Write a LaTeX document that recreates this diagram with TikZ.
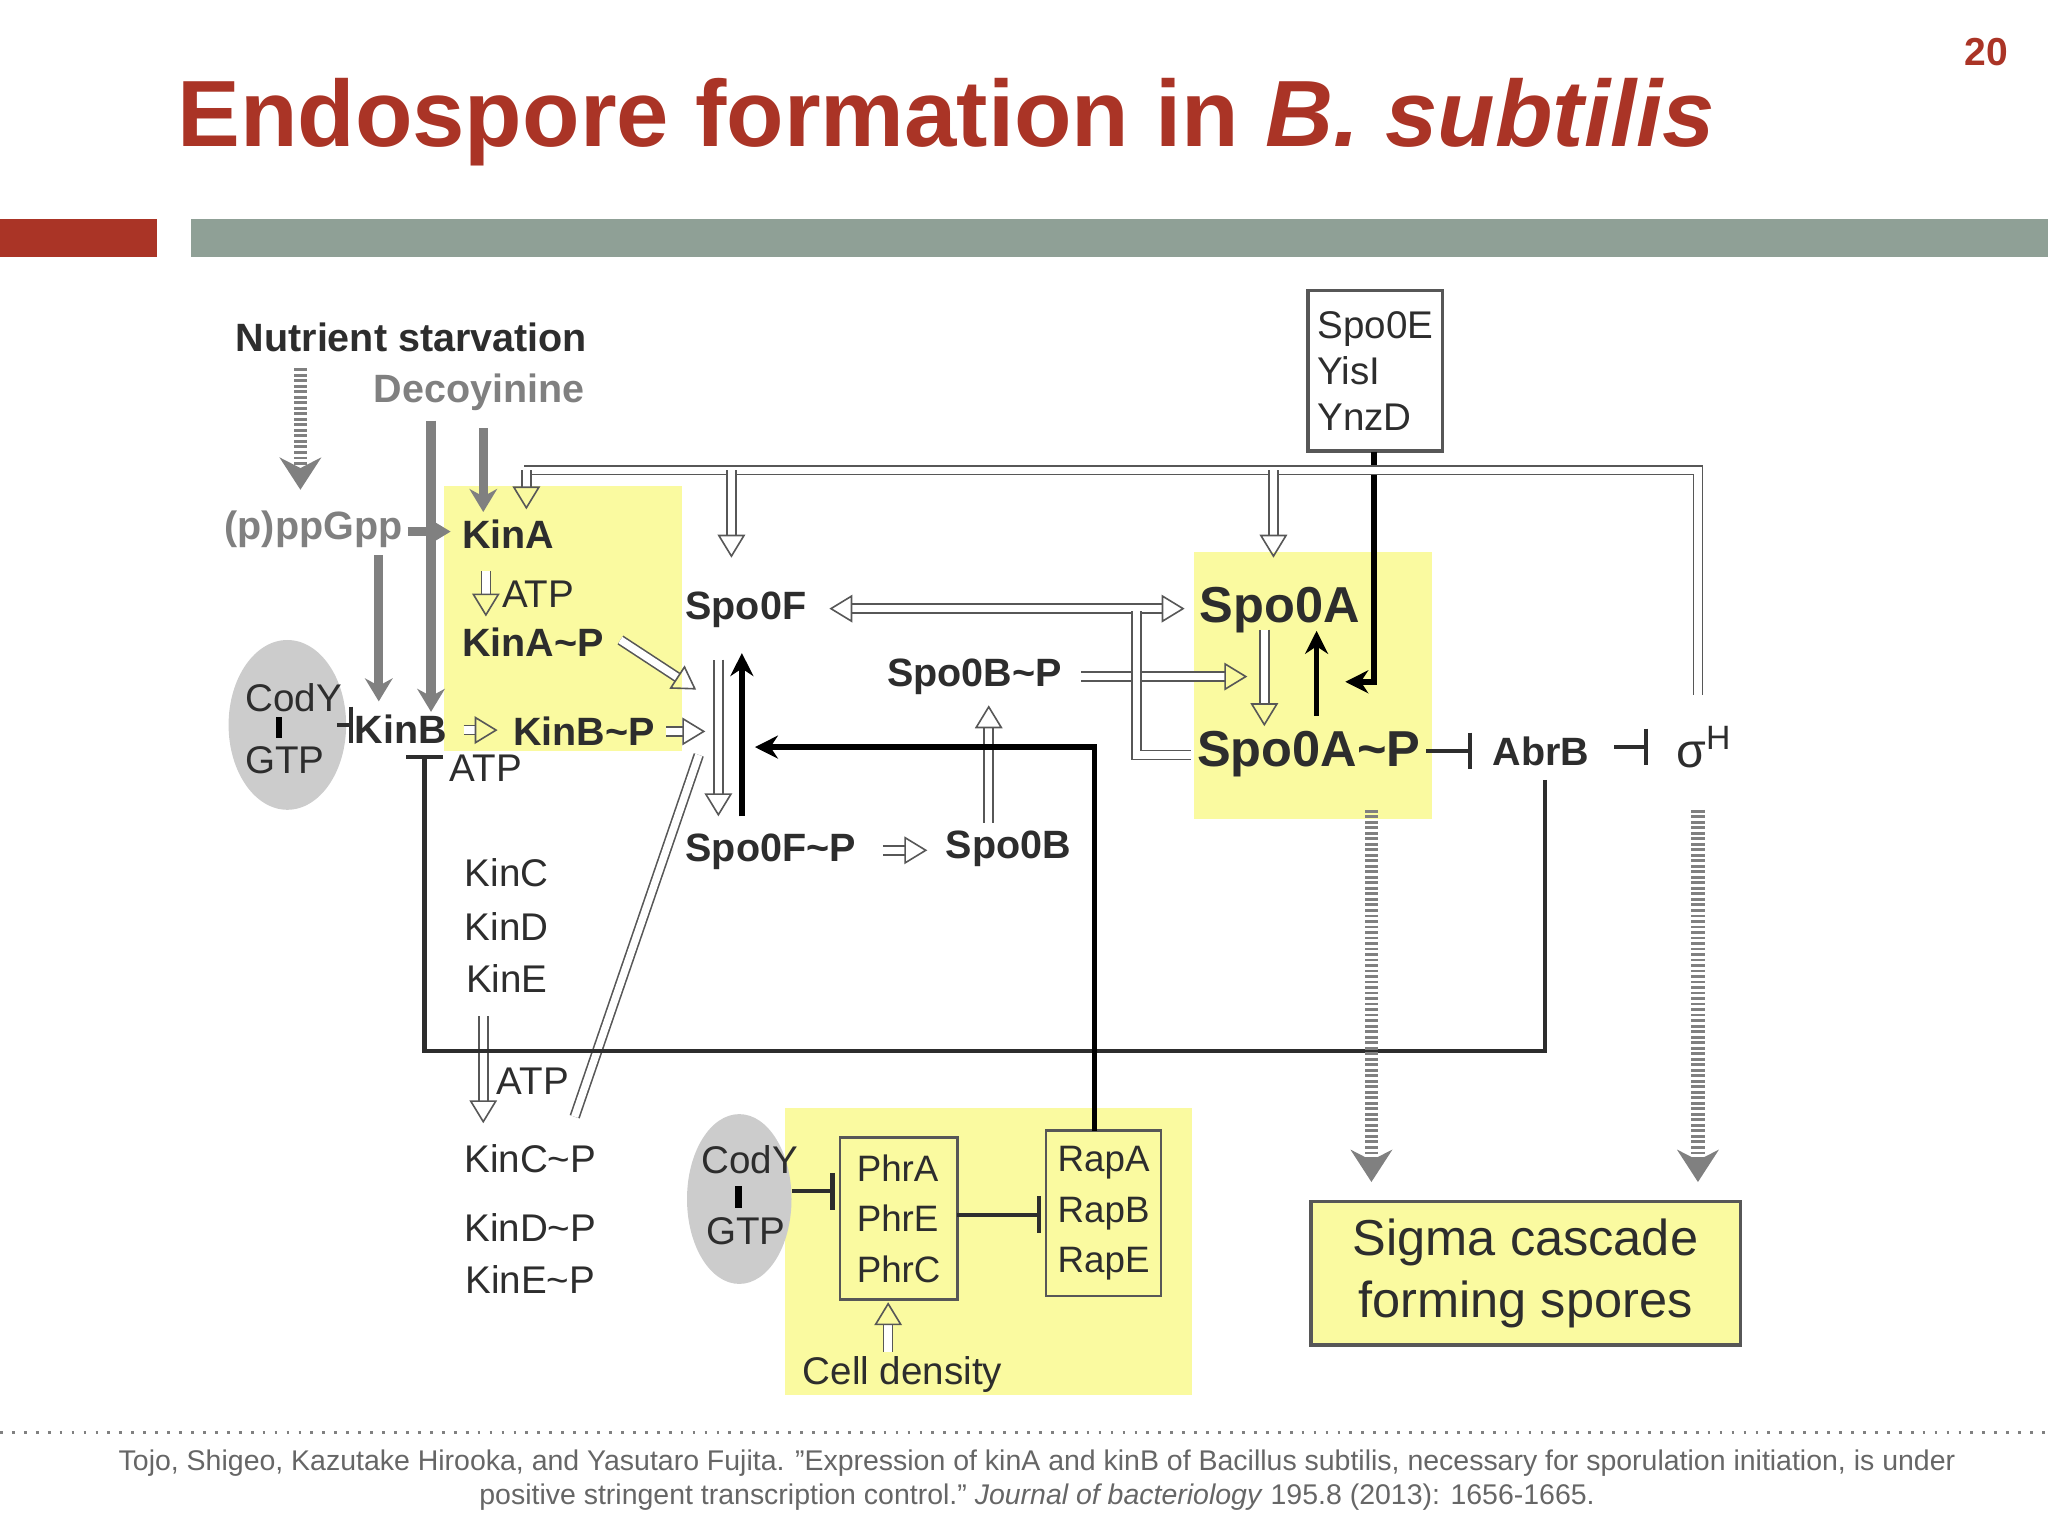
\documentclass[tikz,border=0pt]{standalone}
\usepackage{fontspec}
\setmainfont{Liberation Sans}
\usetikzlibrary{arrows.meta}
\definecolor{tred}{RGB}{170,52,38}
\definecolor{bargray}{RGB}{143,160,150}
\definecolor{ylw}{RGB}{250,250,160}
\definecolor{ink}{RGB}{45,45,45}
\begin{document}
\begin{tikzpicture}[x=0.01cm,y=-0.01cm,
 t/.style={font=\fontsize{8.4}{10}\selectfont,text=ink,inner sep=0pt},
 tb/.style={t,font=\fontsize{8.6}{10}\selectfont\bfseries},
 tbig/.style={t,font=\fontsize{11}{13}\selectfont\bfseries},
 hol/.style={draw=ink!80,line width=0.35pt,double=white,double distance=1.6pt,-{Triangle[open,length=5pt,width=6pt]}},
 holl/.style={draw=ink!80,line width=0.35pt,double=white,double distance=1.6pt},
 blk/.style={draw=black,line width=1.2pt,-{Stealth[length=5pt,width=5pt]}},
 gra/.style={draw=gray,line width=2pt,-{Stealth[length=5pt,width=6pt]}},
 dot/.style={draw=gray,line width=3pt,dash pattern=on 0.6pt off 0.6pt,-{Stealth[length=7pt,width=9pt]}},
 inh/.style={draw=ink,line width=0.9pt,-{Bar[width=8pt]}},
 bx/.style={draw=ink!80,line width=0.8pt}]
\useasboundingbox (0,0) rectangle (1568,1176);
% header
\node[anchor=base west,text=tred,font=\fontsize{20.5}{24}\selectfont\bfseries,inner sep=0pt] (title) at (135,112) {Endospore formation in \textit{B. subtilis}};
\node[text=tred,font=\fontsize{8.5}{10}\selectfont\bfseries] (pg) at (1521,40) {20};
\fill[tred] (0,168) rectangle (120,197);
\fill[bargray] (146,168) rectangle (1568,197);
% yellow areas
\fill[ylw] (340,372) rectangle (522,575);
\fill[ylw] (914,423) rectangle (1096,627);
\fill[ylw] (601,848) rectangle (913,1068);
\node[bx,fill=ylw,minimum width=329*0.01cm,minimum height=110*0.01cm,align=center,font=\fontsize{11}{13.5}\selectfont,text=ink] (sig) at (1168,975) {Sigma cascade\\forming spores};
% ellipses
\fill[gray!40] (220,555) ellipse (45 and 65);
\fill[gray!40] (566,918) ellipse (40 and 65);
% texts
\node[tb] (nut) at (315,258) {Nutrient starvation};
\node[tb,text=gray] (dec) at (367,300) {Decoyinine};
\node[t,text=gray,font=\fontsize{8.6}{10}\selectfont\bfseries] (ppg) at (240,405) {(p)ppGpp};
\node[tb] (kina) at (389,409) {KinA};
\node[t] (atp1) at (412,455) {ATP};
\node[tb] (kinap) at (408,492) {KinA\textasciitilde P};
\node[t] (cody1) at (225,534) {CodY};
\node[t] (gtp1) at (218,582) {GTP};
\node[tb] (kinb) at (307,558) {KinB};
\node[tb] (kinbp) at (447,560) {KinB\textasciitilde P};
\node[t] (atp2) at (372,588) {ATP};
\node[t] (kinc) at (388,668) {KinC};
\node[t] (kind) at (388,709) {KinD};
\node[t] (kine) at (388,749) {KinE};
\node[t] (atp3) at (408,828) {ATP};
\node[t] (kincp) at (406,887) {KinC\textasciitilde P};
\node[t] (kindp) at (406,940) {KinD\textasciitilde P};
\node[t] (kinep) at (406,980) {KinE\textasciitilde P};
\node[tb] (f) at (571,467) {Spo0F};
\node[tb] (fp) at (590,652) {Spo0F\textasciitilde P};
\node[tb] (b) at (772,650) {Spo0B};
\node[tb] (bp) at (746,518) {Spo0B\textasciitilde P};
\node[tbig] (a) at (980,467) {Spo0A};
\node[tbig] (ap) at (1002,577) {Spo0A\textasciitilde P};
\node[tb] (abrb) at (1180,575) {AbrB};
\node[t,font=\fontsize{10.5}{12}\selectfont] (sh) at (1305,572) {σ\textsuperscript{H}};
\node[bx,t,align=left,minimum width=98*0.01cm,minimum height=123*0.01cm,inner sep=2pt] (e) at (1053,284) {Spo0E\\YisI\\YnzD};
\node[t] (cody2) at (574,888) {CodY};
\node[t] (gtp2) at (571,943) {GTP};
\node[bx,t,align=left,minimum width=90*0.01cm,minimum height=124*0.01cm,inner sep=2pt,line width=0.5pt,font=\fontsize{8}{9}\selectfont] (phr) at (688,933) {PhrA\\[2pt]PhrE\\[2pt]PhrC};
\node[bx,t,align=left,minimum width=88*0.01cm,minimum height=127*0.01cm,inner sep=2pt,line width=0.5pt,font=\fontsize{8}{9}\selectfont] (rap) at (845,929) {RapA\\[2pt]RapB\\[2pt]RapE};
\node[t] (cell) at (691,1052) {Cell density};
% small bars in CodY
\fill[black] (211,549) rectangle (216,565);
\fill[black] (563,908) rectangle (568,925);
% gray arrows
\draw[dot] (230,282) -- (230,375);
\draw[gra] (312,407) -- (345,407);
\draw[gra] (370,328) -- (370,392);
\draw[gra] (330,322) -- (330,545);
\draw[gra] (290,425) -- (290,537);
% hollow arrows
\draw[hol] (372,437) -- (372,472);
\draw[hol] (475,490) -- (533,528);
\draw[hol] (355,559) -- (381,559);
\draw[hol] (510,560) -- (540,560);
\draw[hol] (370,778) -- (370,860);
\draw[holl] (440,855) -- (535,578);
\draw[hol] (550,505) -- (550,625);
\draw[blk] (568,625) -- (568,500);
\draw[hol] (676,651) -- (710,651);
\draw[hol] (757,630) -- (757,540);
\draw[hol,{Triangle[open,length=5pt,width=6pt]}-{Triangle[open,length=5pt,width=6pt]}] (635,466) -- (907,466);
\draw[hol] (828,518) -- (955,518);
\draw[holl] (870,468) -- (870,578) -- (912,578);
\draw[hol] (968,482) -- (968,556);
\draw[blk] (1008,548) -- (1008,483);
\draw[blk] (1052,346) -- (1052,522) -- (1030,522);
% top bus
\draw[holl] (1300,532) -- (1300,360) -- (401,360);
\draw[hol] (403,360) -- (403,390);
\draw[hol] (560,360) -- (560,427);
\draw[hol] (975,360) -- (975,427);
% inhibitions
\draw[inh] (258,555) -- (270,555);
\draw[inh] (1092,575) -- (1127,575);
\draw[inh] (1236,572) -- (1262,572);
\draw[inh] (1183,597) -- (1183,805) -- (325,805) -- (325,578);
\draw[inh] (606,912) -- (639,912);
\draw[inh] (733,930) -- (797,930);
\draw[blk] (838,866) -- (838,572) -- (578,572);
\draw[hol] (680,1035) -- (680,997);
\draw[dot] (1050,620) -- (1050,905);
\draw[dot] (1300,620) -- (1300,905);
% footer
\draw[gray,dotted,line width=0.6pt] (0,1097) -- (1568,1097);
\node[align=center,text=gray!80!black,font=\fontsize{6.2}{7.4}\selectfont,inner sep=0pt] (ref) at (794,1133) {Tojo, Shigeo, Kazutake Hirooka, and Yasutaro Fujita. "Expression of kinA and kinB of Bacillus subtilis, necessary for sporulation initiation, is under\\positive stringent transcription control." \textit{Journal of bacteriology} 195.8 (2013): 1656-1665.};
\end{tikzpicture}
\end{document}
